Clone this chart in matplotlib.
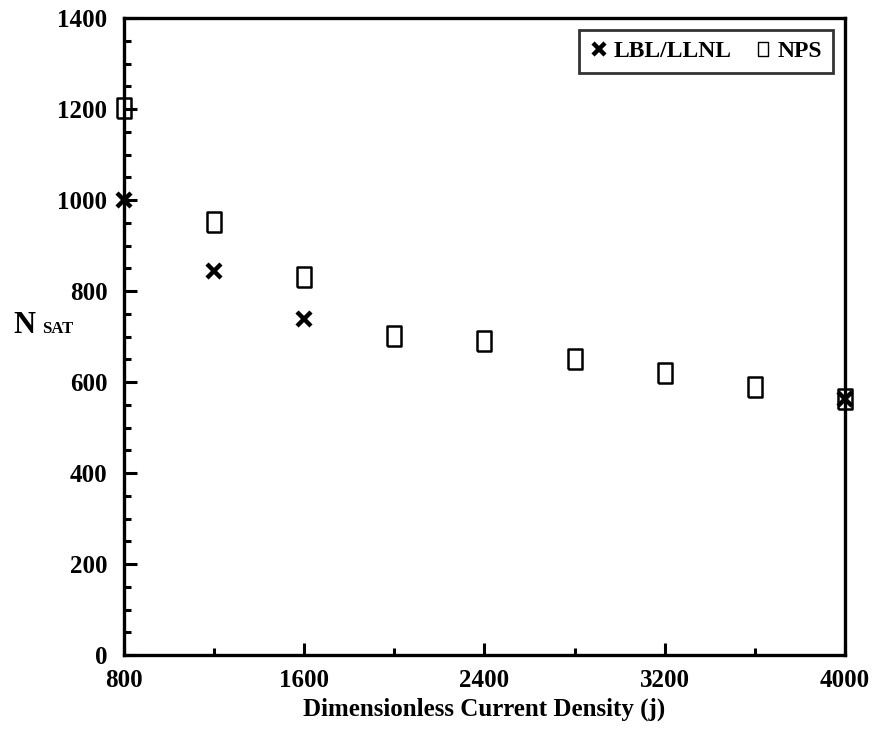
import matplotlib
matplotlib.use("Agg")
import matplotlib.pyplot as plt
from matplotlib.ticker import MultipleLocator

plt.rcParams['font.family'] = ['Liberation Serif', 'DejaVu Serif']
plt.rcParams['font.weight'] = 'bold'

# data
lbl_j = [800, 1200, 1600, 4000]
lbl_n = [1000, 845, 738, 562]
nps_j = [800, 1200, 1600, 2000, 2400, 2800, 3200, 3600, 4000]
nps_n = [1202, 952, 830, 702, 690, 650, 620, 590, 562]
x_ticks = [800, 1600, 2400, 3200, 4000]
y_ticks = [0, 200, 400, 600, 800, 1000, 1200, 1400]

# tall open rectangle like the original
rect = [(-0.33, -0.5), (0.33, -0.5), (0.33, 0.5), (-0.33, 0.5), (-0.33, -0.5)]

fig = plt.figure(figsize=(8.75, 7.33), dpi=100)
ax = fig.add_axes([0.1417, 0.1064, 0.824, 0.869])

ax.plot(lbl_j, lbl_n, linestyle='none', marker='x', markersize=10,
        markeredgewidth=3.2, color='black', label='LBL/LLNL', clip_on=False, zorder=4)
ax.plot(nps_j, nps_n, linestyle='none', marker=rect, markersize=15,
        markerfacecolor='none', markeredgewidth=1.8, markeredgecolor='black',
        label='NPS', clip_on=False, zorder=3)

ax.set_xlim(800, 4000)
ax.set_ylim(0, 1400)
ax.set_xticks(x_ticks)
ax.set_yticks(y_ticks)
ax.xaxis.set_minor_locator(MultipleLocator(400))
ax.yaxis.set_minor_locator(MultipleLocator(50))
ax.tick_params(which='both', direction='in', width=2.2, labelsize=18)
ax.tick_params(axis='y', pad=12)
ax.tick_params(axis='x', pad=10)
ax.tick_params(which='major', length=9)
ax.tick_params(which='minor', length=5)
for lab in ax.get_xticklabels() + ax.get_yticklabels():
    lab.set_fontweight('bold')
for s in ax.spines.values():
    s.set_linewidth(2.4)

ax.set_xlabel('Dimensionless Current Density (j)', fontsize=18, fontweight='bold', labelpad=4)
# y label: N with smaller SAT on the same baseline
fig.text(0.015, 0.546, 'N', fontsize=22, fontweight='bold', va='baseline')
fig.text(0.048, 0.546, 'SAT', fontsize=12, fontweight='bold', va='baseline')

leg = ax.legend(loc='upper right', ncol=2, fontsize=17, frameon=True, fancybox=False,
                borderpad=0.45, handlelength=0.8, handletextpad=0.25, columnspacing=0.9,
                borderaxespad=0.5, markerscale=0.8)
leg.get_frame().set_edgecolor('black')
leg.get_frame().set_linewidth(2)
leg.legend_handles[1].set_markersize(10)
leg.legend_handles[1].set_markeredgewidth(1.0)
for t in leg.get_texts():
    t.set_fontweight('bold')

fig.savefig('out.png', dpi=100)
